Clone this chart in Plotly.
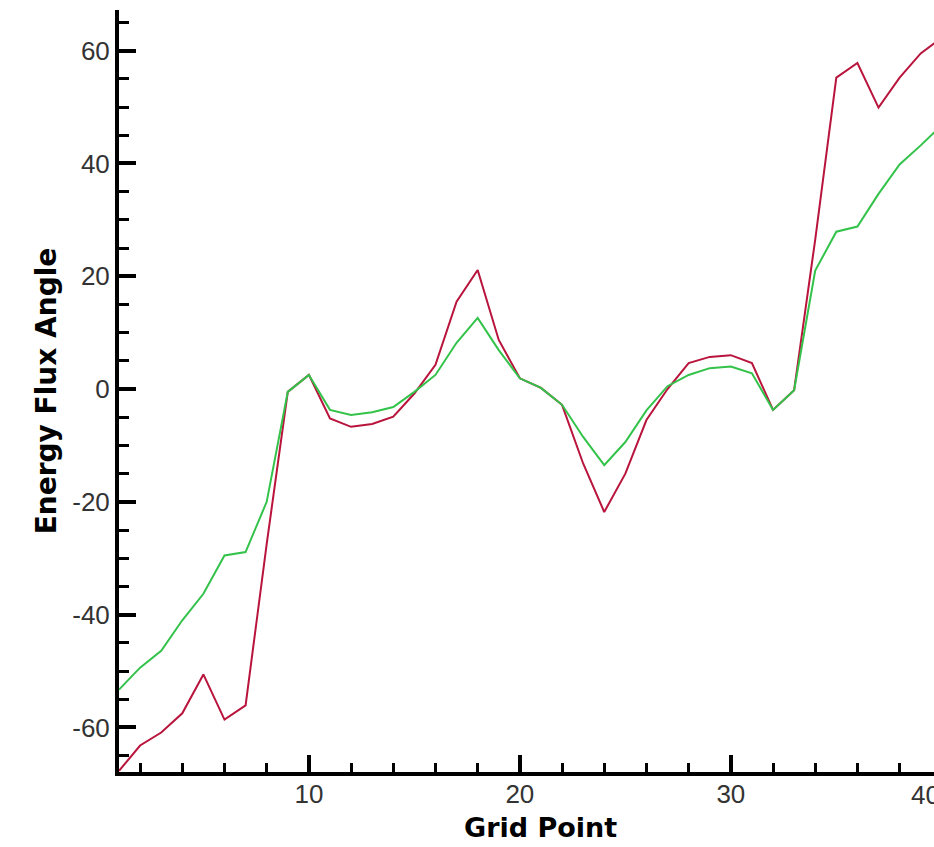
import plotly.graph_objects as go

grid_point = list(range(1, 41))
flux_red = [-67.7, -63.2, -60.9, -57.5, -50.6, -58.6, -56.1, -27.5, -0.5, 2.5,
            -5.2, -6.7, -6.2, -4.9, -0.8, 4.3, 15.5, 21.1, 8.7, 1.9,
            0.2, -2.8, -13.2, -21.8, -15.0, -5.5, 0.0, 4.6, 5.7, 6.0,
            4.6, -3.7, -0.2, 26.5, 55.2, 57.8, 49.9, 55.2, 59.5, 62.3]
flux_green = [-53.3, -49.4, -46.4, -41.0, -36.3, -29.5, -28.9, -20.0, -0.5, 2.5,
              -3.7, -4.6, -4.1, -3.2, -0.5, 2.5, 8.2, 12.6, 6.9, 1.9,
              0.2, -2.8, -8.5, -13.5, -9.4, -3.8, 0.5, 2.5, 3.7, 4.0,
              2.8, -3.7, -0.2, 21.0, 27.9, 28.8, 34.6, 39.8, 43.2, 46.8]

x_range = [1, 39.63]
y_range = [-67.9, 67.2]
x_ticks = [10, 20, 30]
y_ticks = [-60, -40, -20, 0, 20, 40, 60]
x_title = "Grid Point"
y_title = "Energy Flux Angle"
cut_tick = 40

tick_font = dict(family="Liberation Sans, Arial, sans-serif", size=26, color="#333333")
title_font = dict(family="DejaVu Sans, sans-serif", size=27, color="#000000", weight="bold")
ytitle_font = dict(family="DejaVu Sans, sans-serif", size=28, color="#000000", weight="bold")

fig = go.Figure()
fig.add_trace(go.Scatter(x=grid_point, y=flux_red, mode="lines",
                         line=dict(color="#b8143c", width=2), showlegend=False))
fig.add_trace(go.Scatter(x=grid_point, y=flux_green, mode="lines",
                         line=dict(color="#33c24a", width=2), showlegend=False))

axis_common = dict(
    showline=True, linewidth=4, linecolor="black", mirror=False,
    ticks="inside", ticklen=17, tickwidth=4, tickcolor="black",
    showgrid=False, zeroline=False, tickfont=tick_font,
)

fig.update_layout(
    width=934, height=847,
    margin=dict(l=119, r=0, t=10, b=75),
    paper_bgcolor="white", plot_bgcolor="white",
    xaxis=dict(range=x_range, tickmode="array", tickvals=x_ticks,
               ticktext=[str(v) for v in x_ticks], ticklabelstandoff=-4,
               minor=dict(dtick=2, tick0=0, ticks="inside", ticklen=9, tickwidth=2.5, tickcolor="black"),
               **axis_common),
    yaxis=dict(range=y_range, tickmode="array", tickvals=y_ticks,
               ticktext=[str(v) for v in y_ticks],
               minor=dict(dtick=5, tick0=0, ticks="inside", ticklen=10, tickwidth=2.5, tickcolor="black"),
               title=dict(text=y_title, font=ytitle_font, standoff=8),
               **axis_common),
)

# x-axis title, placed slightly right of the visible plot centre as in the source
fig.add_annotation(x=0.5166, xref="paper", y=0, yref="paper", yanchor="top",
                   yshift=-38, text=x_title, showarrow=False, font=title_font)

# partially visible tick label at the cut-off right edge
paper_x = (cut_tick - x_range[0]) / (x_range[1] - x_range[0])
fig.add_annotation(x=paper_x, xref="paper", y=0, yref="paper", yanchor="top",
                   yshift=-6, text=str(cut_tick), showarrow=False, font=tick_font)

fig.write_html("out.html")
